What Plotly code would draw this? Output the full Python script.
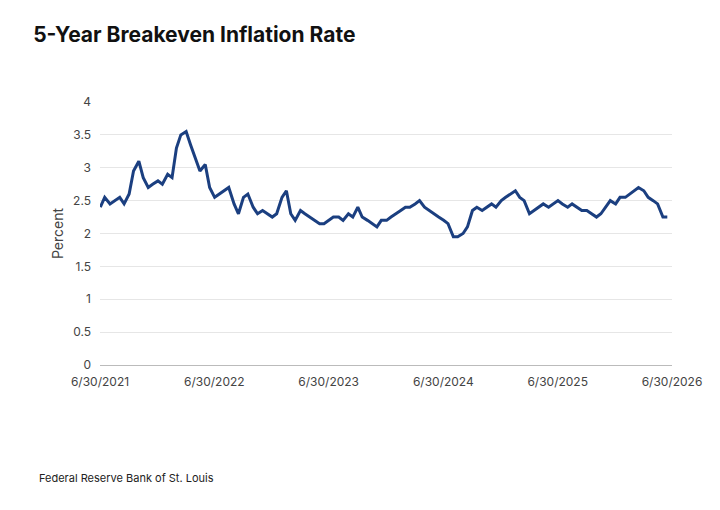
import plotly.graph_objects as go
import pandas as pd

months = pd.date_range("2021-07-01", "2026-06-01", freq="MS")
vals = [2.40,2.55, 2.45,2.50, 2.55,2.45, 2.60,2.95, 3.10,2.85, 2.70,2.75,
        2.80,2.75, 2.90,2.85, 3.30,3.50, 3.55,3.35, 3.15,2.95, 3.05,2.70,
        2.55,2.60, 2.65,2.70, 2.45,2.30, 2.55,2.60, 2.40,2.30, 2.35,2.30,
        2.25,2.30, 2.55,2.65, 2.30,2.20, 2.35,2.30, 2.25,2.20, 2.15,2.15,
        2.20,2.25, 2.25,2.20, 2.30,2.25, 2.40,2.25, 2.20,2.15, 2.10,2.20,
        2.20,2.25, 2.30,2.35, 2.40,2.40, 2.45,2.50, 2.40,2.35, 2.30,2.25,
        2.20,2.15, 1.95,1.95, 2.00,2.10, 2.35,2.40, 2.35,2.40, 2.45,2.40,
        2.50,2.55, 2.60,2.65, 2.55,2.50, 2.30,2.35, 2.40,2.45, 2.40,2.45,
        2.50,2.45, 2.40,2.45, 2.40,2.35, 2.35,2.30, 2.25,2.30, 2.40,2.50,
        2.45,2.55, 2.55,2.60, 2.65,2.70, 2.65,2.55, 2.50,2.45, 2.25,2.25]
dates = []
for m in months:
    dates += [m, m + pd.Timedelta(days=14)]

tick_vals = ["2021-06-30","2022-06-30","2023-06-30","2024-06-30","2025-06-30","2026-06-30"]
tick_text = ["6/30/2021","6/30/2022","6/30/2023","6/30/2024","6/30/2025","6/30/2026"]
y_ticks = [0, 0.5, 1, 1.5, 2, 2.5, 3, 3.5, 4]
y_text = ["0", "0.5", "1", "1.5", "2", "2.5", "3", "3.5", "4"]

fig = go.Figure(go.Scatter(x=dates, y=vals, mode="lines",
                           line=dict(color="#1b3f80", width=3)))
fig.update_layout(
    width=720, height=510, plot_bgcolor="white", paper_bgcolor="white",
    margin=dict(l=92, r=56, t=94, b=153), showlegend=False,
    font=dict(family="Inter, Roboto, sans-serif", color="#444", size=12),
    title=dict(text="<b>5-Year Breakeven Inflation Rate</b>", x=0.035, y=0.948,
               xanchor="left", yanchor="middle",
               font=dict(size=21, color="#111", weight=600)),
    annotations=[dict(text="Federal Reserve Bank of St. Louis", xref="paper", yref="paper",
                      x=-0.11, y=-0.465, xanchor="left", showarrow=False,
                      font=dict(size=11, color="#222"))],
)
fig.update_xaxes(range=["2021-06-30","2026-06-30"], tickvals=tick_vals, ticktext=tick_text,
                 showgrid=False, showline=True, linecolor="#bbb", ticks="outside",
                 ticklen=6, tickcolor="rgba(0,0,0,0)")
fig.update_yaxes(range=[0,4], tickvals=y_ticks, ticktext=y_text, gridcolor="#e6e6e6",
                 zeroline=False, ticklabelstandoff=8,
                 title=dict(text="Percent", standoff=6))
fig.write_html("out.html")
